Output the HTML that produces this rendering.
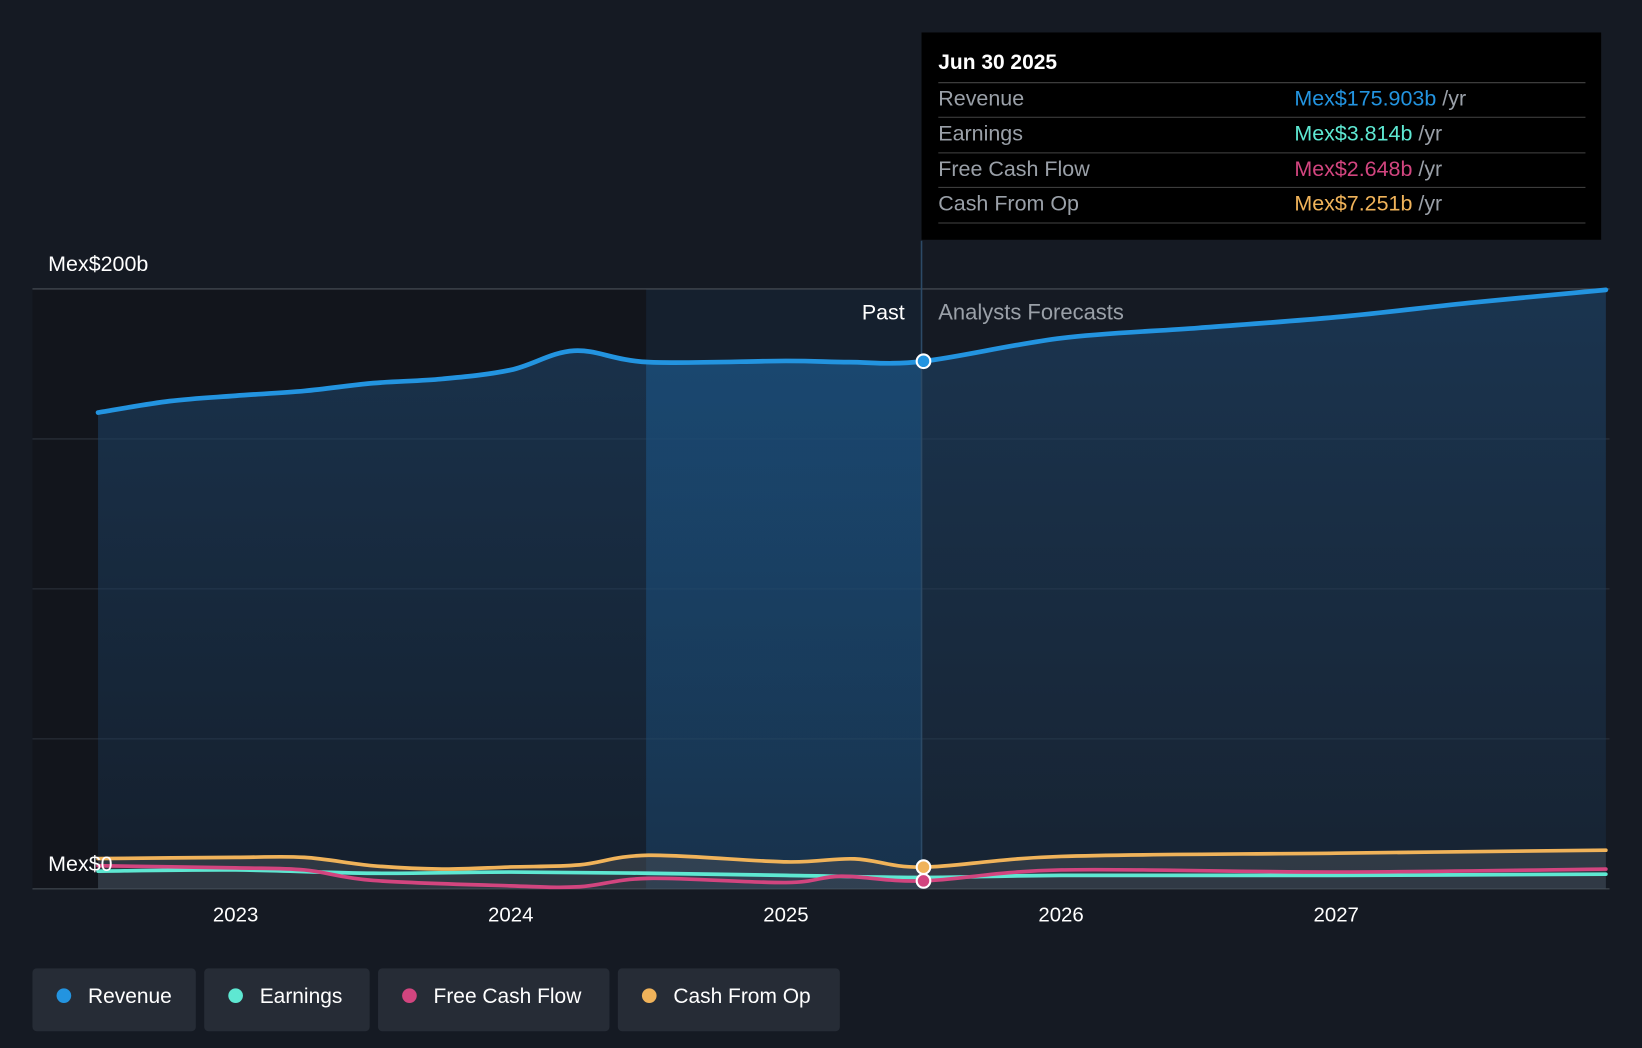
<!DOCTYPE html>
<html><head><meta charset="utf-8"><style>
html,body{margin:0;padding:0;background:#151a23;}
svg{display:block;font-family:"Liberation Sans",Roboto,sans-serif;}
</style></head><body>
<svg width="1642" height="1048" viewBox="0 0 1568 1001" preserveAspectRatio="none" xmlns="http://www.w3.org/2000/svg">
<defs>
<linearGradient id="ga" x1="0" y1="0" x2="0" y2="1"><stop offset="0" stop-color="#1c3d5e" stop-opacity="0.75"/><stop offset="1" stop-color="#1c3d5e" stop-opacity="0.25"/></linearGradient>
<linearGradient id="gp" x1="0" y1="0" x2="0" y2="1"><stop offset="0" stop-color="#1a5a8f" stop-opacity="0.55"/><stop offset="1" stop-color="#1a5a8f" stop-opacity="0.2"/></linearGradient>
<clipPath id="cp"><rect x="617" y="0" width="263" height="1001"/></clipPath>
</defs>
<rect width="1568" height="1001" fill="#151a23"/>
<rect x="31" y="276" width="586" height="573" fill="#12151c"/>
<rect x="617" y="276" width="263" height="573" fill="#15202e"/>
<g id="grid"></g>
<g id="areas"></g>
<g id="lines"></g>
<line x1="880" y1="230" x2="880" y2="849" stroke="#2c4a66" stroke-width="1.5"/>
<text x="46" y="259" fill="#fff" font-size="20.5">Mex$200b</text>
<text x="46" y="832" fill="#fff" font-size="20.5">Mex$0</text>
<text x="864" y="305" fill="#fff" font-size="20.5" text-anchor="end">Past</text>
<text x="896" y="305" fill="#9aa0a8" font-size="21">Analysts Forecasts</text>
<g id="xticks"></g>
<g id="dots"></g>
<g>
<rect x="880" y="31" width="649" height="198" fill="#000"/>
<text x="896" y="66" fill="#fff" font-size="20" font-weight="bold">Jun 30 2025</text>
<g stroke="#444" stroke-width="1"><line x1="896" y1="79" x2="1514" y2="79"/><line x1="896" y1="112" x2="1514" y2="112"/><line x1="896" y1="146" x2="1514" y2="146"/><line x1="896" y1="179" x2="1514" y2="179"/><line x1="896" y1="213" x2="1514" y2="213"/></g>
<g font-size="20.5" fill="#9aa0a8">
<text x="896" y="101">Revenue</text><text x="896" y="134">Earnings</text><text x="896" y="168">Free Cash Flow</text><text x="896" y="201">Cash From Op</text>
<text x="1236" y="101"><tspan fill="#2394e0">Mex$175.903b</tspan> /yr</text>
<text x="1236" y="134"><tspan fill="#5ee8d2">Mex$3.814b</tspan> /yr</text>
<text x="1236" y="168"><tspan fill="#d2457f">Mex$2.648b</tspan> /yr</text>
<text x="1236" y="201"><tspan fill="#f0b35a">Mex$7.251b</tspan> /yr</text>
</g></g>
<g font-size="20" fill="#fff">
<g><rect x="31" y="925" width="156" height="60" rx="4" fill="#262c36"/><circle cx="61" cy="951" r="7" fill="#2394e0"/><text x="84" y="958">Revenue</text></g>
<g><rect x="195" y="925" width="158" height="60" rx="4" fill="#262c36"/><circle cx="225" cy="951" r="7" fill="#5ee8d2"/><text x="248" y="958">Earnings</text></g>
<g><rect x="361" y="925" width="221" height="60" rx="4" fill="#262c36"/><circle cx="391" cy="951" r="7" fill="#d2457f"/><text x="414" y="958">Free Cash Flow</text></g>
<g><rect x="590" y="925" width="212" height="60" rx="4" fill="#262c36"/><circle cx="620" cy="951" r="7" fill="#f0b35a"/><text x="643" y="958">Cash From Op</text></g>
</g>
</svg>
<script>
const revT=[2022.5,2022.76,2023,2023.25,2023.5,2023.75,2024,2024.23,2024.5,2025,2025.23,2025.5,2026,2026.5,2027,2027.5,2027.98];
const revV=[158.8,162.6,164.4,166,168.6,170,173,179.4,175.6,176,175.6,175.9,183.6,187,190.6,195.5,199.7];
const cfoT=[2022.5,2023,2023.25,2023.5,2023.75,2024,2024.25,2024.5,2025,2025.25,2025.5,2026,2027,2027.98];
const cfoV=[10.1,10.5,10.5,7.7,6.6,7.3,8,11.2,9,10,7.25,10.8,11.9,12.9];
const fcfT=[2022.5,2023,2023.25,2023.5,2024,2024.25,2024.5,2025,2025.2,2025.5,2026,2027,2027.98];
const fcfV=[7.7,7,6.3,2.8,1,0.7,3.5,2.1,4.2,2.648,6.3,5.6,6.6];
const earT=[2022.5,2023,2023.5,2024,2024.5,2025,2025.5,2026,2027,2027.98];
const earV=[5.9,6.3,5.2,5.6,5.2,4.5,3.814,4.5,4.5,4.9];
const yTicks=[0,50,100,150,200];
const xTicks=[2023,2024,2025,2026,2027];
const NS='http://www.w3.org/2000/svg';
const X=t=>225+(t-2023)*262.75, Y=v=>849-v*2.865;
function mk(tag,attrs,parent){const e=document.createElementNS(NS,tag);for(const k in attrs)e.setAttribute(k,attrs[k]);document.getElementById(parent).appendChild(e);return e;}
function path(T,V){const p=T.map((t,i)=>[X(t),Y(V[i])]);let d='M'+p[0][0]+','+p[0][1];
for(let i=0;i<p.length-1;i++){const p0=p[Math.max(0,i-1)],p1=p[i],p2=p[i+1],p3=p[Math.min(p.length-1,i+2)];
d+=' C'+(p1[0]+(p2[0]-p0[0])/6)+','+(p1[1]+(p2[1]-p0[1])/6)+' '+(p2[0]-(p3[0]-p1[0])/6)+','+(p2[1]-(p3[1]-p1[1])/6)+' '+p2[0]+','+p2[1];}return d;}
yTicks.forEach(v=>{const l=mk('line',{x1:31,x2:1537,y1:Y(v),y2:Y(v),stroke:v===0||v===200?'#4a5058':'#2c333d','stroke-width':1},'grid');

});
const rp=path(revT,revV);
const x0=X(revT[0]),x1=X(revT[revT.length-1]);
const a=mk('path',{d:rp+' L'+x1+','+Y(0)+' L'+x0+','+Y(0)+'Z',fill:'url(#ga)'},'areas');


const a2=mk('path',{d:rp+' L'+x1+','+Y(0)+' L'+x0+','+Y(0)+'Z',fill:'url(#gp)','clip-path':'url(#cp)'},'areas');


const cfoA=mk('path',{d:path(cfoT,cfoV)+' L'+X(cfoT[cfoT.length-1])+','+Y(0)+' L'+x0+','+Y(0)+'Z',fill:'#4a5058',opacity:0.5},'areas');


[[earT,earV,'#5ee8d2','earnings-line'],[fcfT,fcfV,'#d2457f','fcf-line'],[cfoT,cfoV,'#f0b35a','cfo-line'],[revT,revV,'#2394e0','revenue-line']].forEach(s=>{
const l=mk('path',{d:path(s[0],s[1]),fill:'none',stroke:s[2],'stroke-width':s[3]==='revenue-line'?4.5:3.5,'stroke-linecap':'round'},'lines');

});
xTicks.forEach(t=>{const tx=mk('text',{x:X(t),y:880,fill:'#fff','font-size':19.5,'text-anchor':'middle'},'xticks');tx.textContent=t;

});
[[revV[11],'#2394e0'],[cfoV[10],'#f0b35a'],[fcfV[9],'#d2457f']].forEach(d=>{
const c=mk('circle',{cx:X(2025.5),cy:Y(d[0]),r:6.5,fill:d[1],stroke:'#fff','stroke-width':2},'dots');

});
</script>
</body></html>
